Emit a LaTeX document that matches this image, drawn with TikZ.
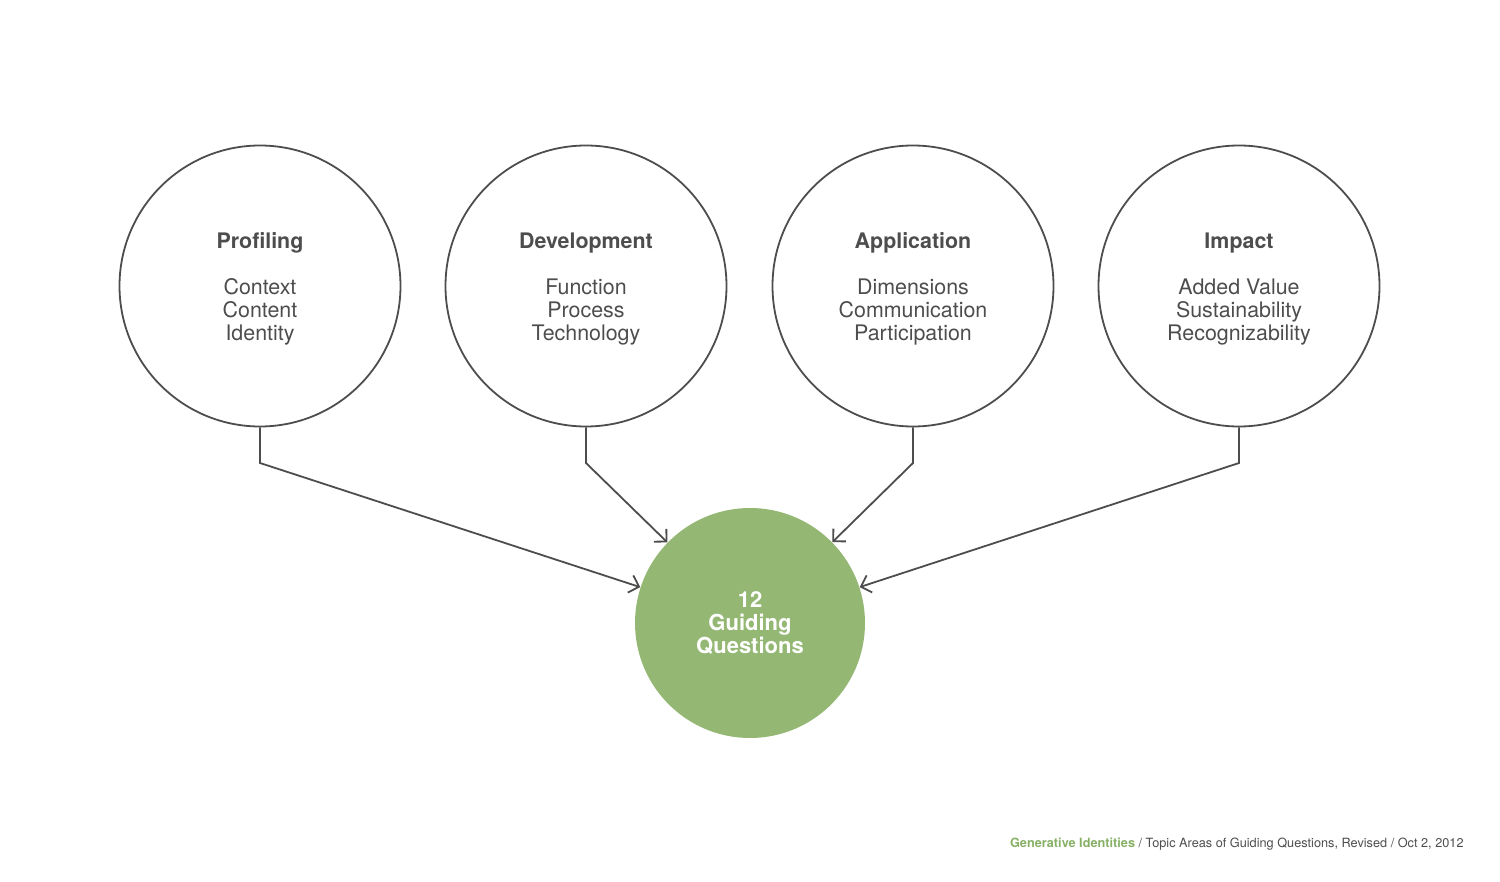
\documentclass[tikz,border=0pt]{standalone}
\usepackage{fontspec}
\setmainfont{TeX Gyre Heros}
\usetikzlibrary{arrows.meta}
\definecolor{ink}{HTML}{4D4D4D}
\definecolor{leaf}{HTML}{94B874}
\definecolor{leaftext}{HTML}{86B066}
\tikzset{
  topic/.style={circle, draw=ink, line width=0.9pt, minimum size=140.5pt, inner sep=0pt},
  topictext/.style={text=ink, align=center, inner sep=0pt, font=\fontsize{10.7}{11.5}\selectfont},
  hub/.style={circle, fill=leaf, minimum size=115pt, inner sep=0pt,
    text=white, align=center, font=\fontsize{11}{11.5}\selectfont\bfseries},
  link/.style={draw=ink, line width=0.9pt, -{Straight Barb[length=4.5pt,width=9pt,line width=0.9pt]}},
}
\begin{document}
\begin{tikzpicture}[x=0.5pt,y=-0.5pt]
\useasboundingbox (0,0) rectangle (1500,882);
\node[topic] (p1) at (260,286) {};
\node[topic] (p2) at (586,286) {};
\node[topic] (p3) at (913,286) {};
\node[topic] (p4) at (1239,286) {};
\node[topictext] (t1) at (260,289) {\textbf{Profiling}\\[11.5pt]Context\\Content\\Identity};
\node[topictext] (t2) at (586,289) {\textbf{Development}\\[11.5pt]Function\\Process\\Technology};
\node[topictext] (t3) at (913,289) {\textbf{Application}\\[11.5pt]Dimensions\\Communication\\Participation};
\node[topictext] (t4) at (1239,289) {\textbf{Impact}\\[11.5pt]Added Value\\Sustainability\\Recognizability};
\node[hub] (g) at (750,623) {12\\Guiding\\Questions};
\coordinate (b1) at (260,463);
\coordinate (b2) at (586,463);
\coordinate (b3) at (913,463);
\coordinate (b4) at (1239,463);
\draw[link] (p1.south) -- (b1) -- (g);
\draw[link] (p2.south) -- (b2) -- (g);
\draw[link] (p3.south) -- (b3) -- (g);
\draw[link] (p4.south) -- (b4) -- (g);
\node[anchor=base east, inner sep=0pt, font=\fontsize{6.36}{7}\selectfont, text=ink] (foot) at (1464,847)
  {\textcolor{leaftext}{\bfseries Generative Identities} / Topic Areas of Guiding Questions, Revised / Oct 2, 2012};
\end{tikzpicture}
\end{document}
